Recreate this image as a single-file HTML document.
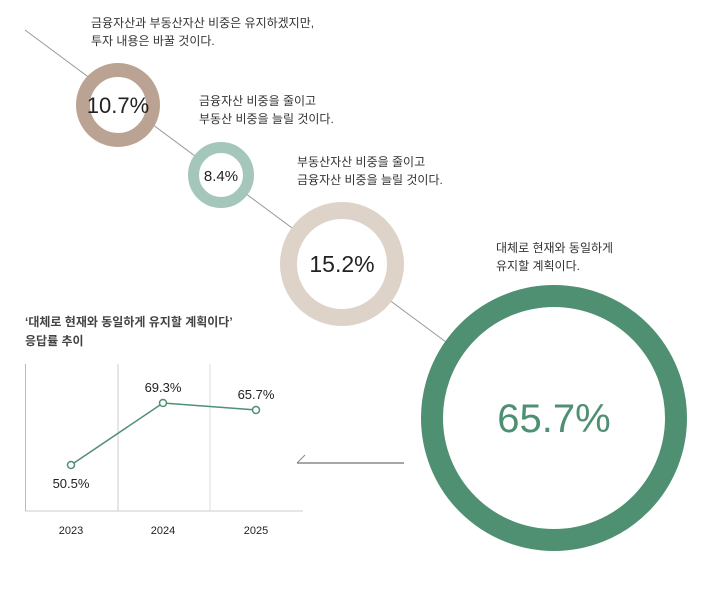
<!DOCTYPE html>
<html><head><meta charset="utf-8"><style>
body{margin:0;background:#fff;width:715px;height:584px;overflow:hidden;font-family:"Liberation Sans","Noto Sans CJK KR",sans-serif;}
</style></head><body>
<svg width="715" height="584" viewBox="0 0 715 584" xmlns="http://www.w3.org/2000/svg" style="font-family:'Liberation Sans','Noto Sans CJK KR',sans-serif">
<line x1="25" y1="30" x2="450" y2="345" stroke="#999" stroke-width="1"/>
<line x1="297" y1="463" x2="404" y2="463" stroke="#888" stroke-width="1.5"/>
<line x1="297" y1="463" x2="305" y2="455" stroke="#888" stroke-width="1"/>
<circle cx="118" cy="105" r="35" fill="#fff" stroke="#bba393" stroke-width="14"/>
<circle cx="221" cy="175" r="27.5" fill="#fff" stroke="#a5c7bb" stroke-width="11"/>
<circle cx="342" cy="264" r="53.5" fill="#fff" stroke="#ddd3c8" stroke-width="17"/>
<circle cx="554" cy="418" r="122" fill="#fff" stroke="#4f8f72" stroke-width="22"/>
<text x="118" y="113" font-size="22" text-anchor="middle" fill="#222">10.7%</text>
<text x="221" y="181" font-size="15" text-anchor="middle" fill="#222">8.4%</text>
<text x="342" y="272" font-size="23" text-anchor="middle" fill="#222">15.2%</text>
<text x="554" y="432" font-size="40" text-anchor="middle" fill="#4f8f72">65.7%</text>
<g font-size="12" fill="#333">
<text x="91" y="27">금융자산과 부동산자산 비중은 유지하겠지만,</text>
<text x="91" y="45">투자 내용은 바꿀 것이다.</text>
<text x="199" y="105">금융자산 비중을 줄이고</text>
<text x="199" y="123">부동산 비중을 늘릴 것이다.</text>
<text x="297" y="166">부동산자산 비중을 줄이고</text>
<text x="297" y="184">금융자산 비중을 늘릴 것이다.</text>
<text x="496" y="252">대체로 현재와 동일하게</text>
<text x="496" y="270">유지할 계획이다.</text>
</g>
<g font-size="12" font-weight="bold" fill="#444">
<text x="25" y="326">‘대체로 현재와 동일하게 유지할 계획이다’</text>
<text x="25" y="345">응답률 추이</text>
</g>
<line x1="25.5" y1="364" x2="25.5" y2="511" stroke="#bbb"/>
<line x1="118" y1="364" x2="118" y2="511" stroke="#ccc"/>
<line x1="210" y1="364" x2="210" y2="511" stroke="#ddd"/>
<line x1="25" y1="511" x2="303" y2="511" stroke="#ccc"/>
<polyline points="71,465 163,403 256,410" fill="none" stroke="#4f8f72" stroke-width="1.5"/>
<g fill="#fff" stroke="#4f8f72" stroke-width="1.5">
<circle cx="71" cy="465" r="3.5"/><circle cx="163" cy="403" r="3.5"/><circle cx="256" cy="410" r="3.5"/>
</g>
<g font-size="13" fill="#222" text-anchor="middle">
<text x="71" y="488">50.5%</text>
<text x="163" y="392">69.3%</text>
<text x="256" y="399">65.7%</text>
</g>
<g font-size="11" fill="#222" text-anchor="middle">
<text x="71" y="534">2023</text>
<text x="163" y="534">2024</text>
<text x="256" y="534">2025</text>
</g>
</svg>
</body></html>
